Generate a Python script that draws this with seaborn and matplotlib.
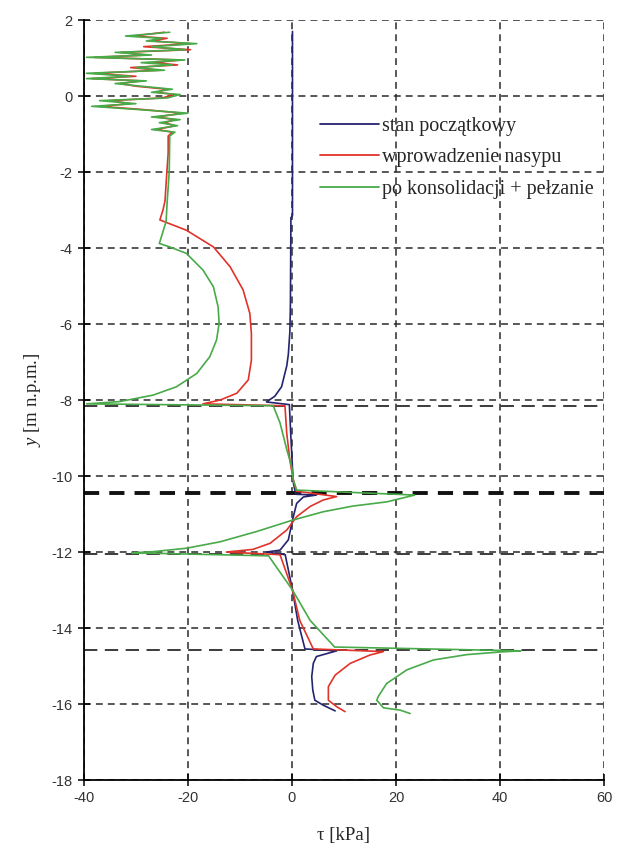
#!/usr/bin/env python3
"""Shear stress profiles tau(y) for three stages, recreated with seaborn."""

import matplotlib

matplotlib.use("Agg")
import matplotlib.pyplot as plt
import pandas as pd
import seaborn as sns

LABELS = ["stan początkowy", "wprowadzenie nasypu", "po konsolidacji + pełzanie"]
COLORS = ["#24246e", "#e0332a", "#48aa48"]

X_TICKS = [-40, -20, 0, 20, 40, 60]
Y_TICKS = [2, 0, -2, -4, -6, -8, -10, -12, -14, -16, -18]
LAYER_BOUNDS = [-8.15, -12.05, -14.58]
MAIN_BOUND = -10.45

BLUE_TAU = [0.1, 0.1, -0.2, -0.3, -0.4, -0.7, -1.0, -2.0, -3.3, -4.9,
            -0.5, -0.2, 0.1, 0.3, 0.6, 0.8,
            4.7, 2.2, 0.9, 0.1, -0.7, -2.3, -4.9,
            -1.3, 0.1, 1.1, 2.5,
            8.6, 4.7, 4.1, 3.8, 4.0, 4.4, 6.0, 8.3]
BLUE_Y = [1.7, -3.15, -3.2, -5.5, -6.2, -6.8, -7.1, -7.65, -7.9, -8.05,
          -8.12, -9.0, -9.8, -10.2, -10.4, -10.48,
          -10.5, -10.55, -10.72, -11.16, -11.68, -11.95, -12.0,
          -12.07, -13.0, -13.8, -14.55,
          -14.6, -14.75, -14.93, -15.28, -15.63, -15.9, -16.03, -16.18]

RED_TAU = [-24.5, -30.5, -24, -27, -19.5, -28.5, -19.5, -33, -28, -38,
           -21.5, -26.5, -22, -31, -25.5, -38, -30, -38.5, -29, -33,
           -30, -24, -26, -22.5, -25, -35, -31, -37, -29, -21,
           -26, -22.5, -24.5, -22.5, -26, -23, -23.8,
           -23.8, -24.2, -24.4, -24.8, -25.4, -20.3, -15.1, -11.9, -9.4,
           -8.1, -7.8, -7.8, -8.4, -10.6, -13.8, -17.1,
           -1.35, -1.0, -0.4, 0.25, 0.9,
           8.6, 6.0, 3.5, 0.9, -1.0, -4.2, -7.5, -12.6,
           -2.3, 0.1, 1.5, 4.1,
           17.6, 15.0, 11.2, 8.3, 7.0, 7.0, 8.6, 10.2]
RED_Y = [1.68, 1.58, 1.52, 1.45, 1.38, 1.30, 1.22, 1.15, 1.08, 1.02,
         0.95, 0.88, 0.82, 0.75, 0.68, 0.60, 0.52, 0.46, 0.40, 0.33,
         0.26, 0.18, 0.10, 0.04, -0.05, -0.12, -0.20, -0.27, -0.35, -0.45,
         -0.55, -0.62, -0.70, -0.78, -0.88, -0.95, -1.05,
         -1.5, -2.3, -2.75, -3.0, -3.26, -3.53, -3.97, -4.49, -5.1,
         -5.72, -6.25, -6.95, -7.47, -7.82, -8.0, -8.1,
         -8.15, -8.88, -9.58, -10.1, -10.4,
         -10.54, -10.63, -10.8, -11.07, -11.42, -11.77, -11.93, -12.0,
         -12.07, -13.0, -13.8, -14.55,
         -14.62, -14.71, -14.93, -15.24, -15.54, -15.9, -16.07, -16.2]

GREEN_TAU = [-23.5, -32, -25, -28, -18.3, -27, -20.5, -34, -27, -39.5,
             -20.6, -29, -23, -30, -24.5, -39.5, -31, -39.5, -28, -34,
             -29, -23, -27, -21.5, -24, -37, -30, -38.5, -30, -20,
             -27, -21.5, -25.5, -22, -27, -22.5, -23.5,
             -23.6, -24.0, -24.2, -25.5, -23.5, -20.3, -17.1, -15.1, -14.2,
             -14.0, -14.5, -15.8, -18.3, -22.2, -26.7, -33.1, -39.5,
             -3.6, -2.3, -1.0, -0.06, 0.25, 0.9,
             23.6, 18.2, 11.7, 6.0, 0.13, -6.8, -13.8, -20.3, -26.7, -30.8,
             -4.5, 0.1, 3.5, 8.2,
             44.0, 40.0, 33.6, 27.2, 22.1, 18.2, 16.6, 16.3, 17.6, 20.8, 22.7]
GREEN_Y = [1.68, 1.58, 1.52, 1.45, 1.38, 1.30, 1.22, 1.15, 1.08, 1.02,
           0.95, 0.88, 0.82, 0.75, 0.68, 0.60, 0.52, 0.46, 0.40, 0.33,
           0.26, 0.18, 0.10, 0.04, -0.05, -0.12, -0.20, -0.27, -0.35, -0.45,
           -0.55, -0.62, -0.70, -0.78, -0.88, -0.95, -1.05,
           -2.0, -2.8, -3.3, -3.88, -3.97, -4.14, -4.58, -5.02, -5.55,
           -5.98, -6.42, -6.86, -7.3, -7.65, -7.87, -8.04, -8.1,
           -8.15, -8.6, -9.3, -9.75, -10.1, -10.37,
           -10.5, -10.68, -10.79, -10.94, -11.16, -11.46, -11.73, -11.9, -11.99, -12.02,
           -12.1, -13.0, -13.8, -14.5,
           -14.6, -14.63, -14.7, -14.84, -15.1, -15.46, -15.8, -15.9, -16.1, -16.16, -16.25]


def build_frame() -> pd.DataFrame:
    frames = []
    for label, tau, y in zip(LABELS, (BLUE_TAU, RED_TAU, GREEN_TAU),
                             (BLUE_Y, RED_Y, GREEN_Y)):
        frames.append(pd.DataFrame({"tau": tau, "y": y, "stage": label}))
    return pd.concat(frames, ignore_index=True)


def main() -> None:
    sns.set_theme(style="white")
    plt.rcParams.update({
        "font.family": ["Liberation Sans", "DejaVu Sans"],
        "axes.unicode_minus": False,
        "mathtext.fontset": "custom",
        "mathtext.rm": "Liberation Serif",
        "mathtext.it": "Liberation Serif:italic",
    })

    df = build_frame()
    fig = plt.figure(figsize=(6.17, 8.51), dpi=100)
    ax = fig.add_axes([0.136, 0.0834, 0.843, 0.893])

    sns.lineplot(data=df, x="tau", y="y", hue="stage", hue_order=LABELS,
                 palette=COLORS, sort=False, estimator=None, linewidth=1.2,
                 ax=ax)

    ax.set_xlim(-40, 60)
    ax.set_ylim(-18, 2)
    ax.set_xticks(X_TICKS)
    ax.set_yticks(Y_TICKS)
    ax.grid(True, color="#2a2a2a", linewidth=1.1, linestyle=(0, (4.5, 3.3)))
    for yb in LAYER_BOUNDS:
        ax.axhline(yb, color="#1a1a1a", linewidth=1.2, linestyle=(0, (8, 4.5)), zorder=1.5)
    ax.axhline(MAIN_BOUND, color="#111111", linewidth=2.8, linestyle=(0, (3.9, 2.6)), zorder=1.5)

    for side in ("top", "right"):
        ax.spines[side].set_visible(False)
    for side in ("left", "bottom"):
        ax.spines[side].set_color("black")
        ax.spines[side].set_linewidth(1.3)
    ax.tick_params(axis="both", direction="inout", length=9, width=1.1,
                   labelsize=10.5, labelcolor="#333333", color="black",
                   left=True, bottom=True)

    ax.set_xlabel("τ [kPa]", family="Liberation Serif", fontsize=13.5)
    ax.set_ylabel("$y$ [m n.p.m.]", family="Liberation Serif", fontsize=13.5)
    ax.xaxis.set_label_coords(0.5, -0.062)
    ax.yaxis.set_label_coords(-0.078, 0.5)

    leg = ax.legend(loc="upper left", bbox_to_anchor=(0.42, 0.897), frameon=False,
                    handlelength=2.9, handletextpad=0.15, labelspacing=0.62,
                    prop={"family": "Liberation Serif", "size": 14.5})
    for line in leg.get_lines():
        line.set_linewidth(1.3)

    fig.savefig("out.png", dpi=100)
    plt.close(fig)


if __name__ == "__main__":
    main()
